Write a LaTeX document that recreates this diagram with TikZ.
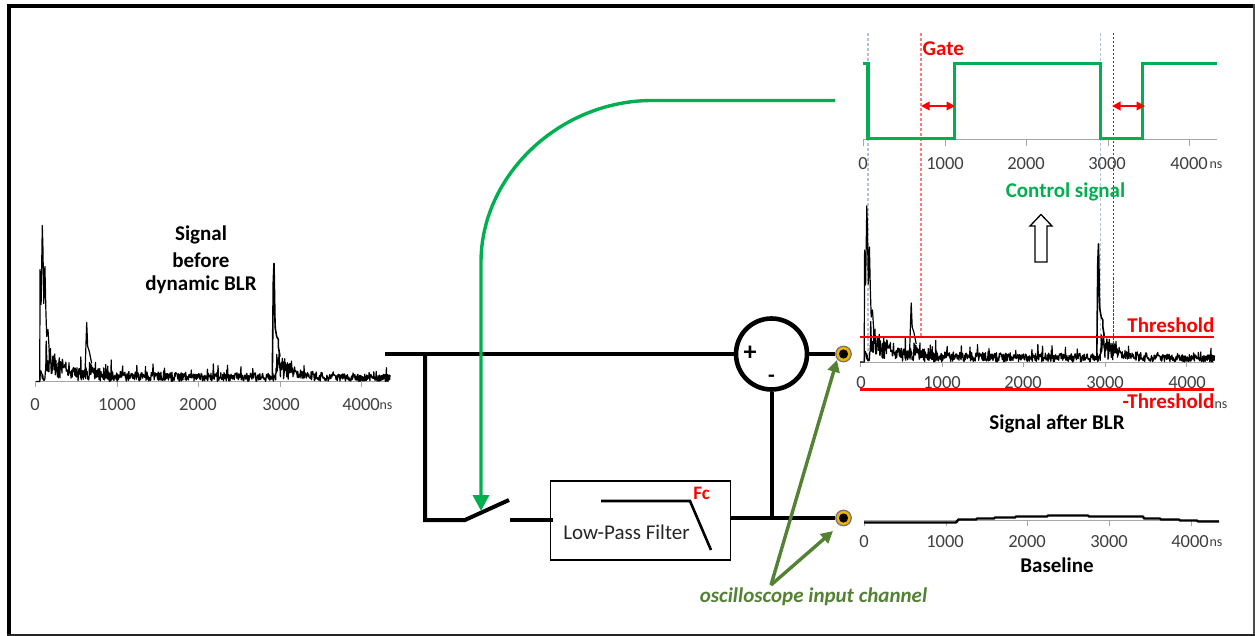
\documentclass[tikz,border=0pt]{standalone}
\usepackage{fontspec}
\setmainfont{Carlito}
\usetikzlibrary{arrows.meta,calc}
\definecolor{grn}{HTML}{00B050}
\definecolor{olive}{HTML}{548235}
\definecolor{txtgray}{HTML}{404040}
\definecolor{axgray}{HTML}{A6A6A6}
\definecolor{dashblue}{HTML}{B4C0D4}
\definecolor{dashpink}{HTML}{FF7C7C}
\definecolor{dashdark}{HTML}{A02020}
\definecolor{yel}{HTML}{F0B400}
\newcommand{\sigpeaks}{%
  \draw[sig] (4.2,-1) -- (4.6,-112) -- (5.6,-77) -- (6.8,-156) -- (7.4,-135) -- (8.3,-78) -- (9.4,-115) -- (10.4,-70) -- (11.2,-45) -- (12.5,-52) -- (13.8,-30);
  \draw[sig] (49.5,-8) -- (51.2,-59) -- (52.2,-35) -- (53.8,-30) -- (56.2,-18);
  \draw[sig,line width=1.6pt] (236.8,-5) -- (237.8,-100) -- (238.5,-118) -- (239.5,-60) -- (239.8,-53) -- (241.2,-45) -- (242.8,-42) -- (242.8,-35) -- (244.5,-25);
}
\tikzset{
  wire/.style={line width=4pt,black},
  tick/.style={font=\fontsize{18.5}{21}\selectfont,text=txtgray,inner sep=0pt},
  nsl/.style={font=\fontsize{14}{16}\selectfont,text=txtgray,inner sep=0pt},
  lab/.style={font=\bfseries\fontsize{21}{24}\selectfont,inner sep=0pt},
  redlab/.style={font=\bfseries\fontsize{21}{24}\selectfont,inner sep=0pt,text=red},
  axisl/.style={axgray,line width=1pt},
  sig/.style={black,line width=1.2pt,line join=round},
  vdash/.style={dash pattern=on 3pt off 2pt,line width=1.3pt},
  plug/.style={circle,draw=black!55,line width=1.2pt,fill=yel,minimum size=15.5pt,inner sep=0pt},
  thr/.style={red,line width=2.8pt},
  gatearrow/.style={red,line width=2.4pt,{Triangle[width=8.5pt,length=8.5pt]}-{Triangle[width=8.5pt,length=8.5pt]}},
  oarrow/.style={olive,line width=3.4pt,-{Triangle[width=12pt,length=12pt]}},
  declare function={
    env(\t)=(\t>=130)*32*exp(-max(\t-130,0)/240)
           +(\t>=660)*16*exp(-max(\t-660,0)/100)
           +(\t>=2950)*30*exp(-max(\t-2950,0)/190);
    sigy(\t)=(\t>=55)*(env(\t)*rnd+(11-0.0009*\t)*rnd*(1+(rnd>0.9)*1.0));
  }
}
\begin{document}
\begin{tikzpicture}[x=1pt,y=-1pt]
\useasboundingbox (0,0) rectangle (1255,636);
\fill[white] (0,0) rectangle (1255,636);
% frame
\fill[black] (7,4) rectangle (11,636);
\fill[black] (7,4) rectangle (1255,8);
\fill[black!70] (1253.4,4) rectangle (1255,636);
\fill[black!85] (7,634) rectangle (1255,636);

% ---------- left chart
\draw[axisl] (35.5,381.5) -- (389,381.5);
\foreach \xx in {35.5,117,198.5,280,361.5}{
  \draw[axisl] (\xx,381.5) -- (\xx,386.5);
}
\pgfmathsetseed{12345}
\draw[sig] plot[domain=0:4350,samples=900] ({35.5+0.0815*\x},{381.5-sigy(\x)});
\begin{scope}[shift={(35.5,381.5)}]\sigpeaks\end{scope}
\foreach \k/\xx in {0/35,1000/117,2000/198,3000/281,4000/361}{
  \node[tick] (lt\k) at (\xx,404.5) {\k};
}
\node[nsl] (lns) at (386,406.5) {ns};
\node[lab] (t1) at (201,234.5) {Signal};
\node[lab] (t2) at (201,260) {before};
\node[lab] (t3) at (201,285) {dynamic BLR};

% ---------- control chart
\draw[axisl] (863,140) -- (1217,140);
\foreach \xx in {863,945,1026,1108,1189}{
  \draw[axisl] (\xx,140) -- (\xx,146);
}
\draw[dashblue,vdash] (868,33) -- (868,362);
\draw[dashblue,vdash] (1100.7,33) -- (1100.7,362);
\draw[dashpink,vdash] (921,33) -- (921,337);
\draw[dashdark,dash pattern=on 2.5pt off 1.5pt,line width=1pt] (1113.5,33) -- (1113.5,357);
\draw[grn,line width=3.3pt,line join=miter]
  (863,63.5) -- (868,63.5) -- (868,138.7) -- (954.7,138.7) -- (954.7,63.5) -- (1100.7,63.5)
  -- (1100.7,138.7) -- (1142.7,138.7) -- (1142.7,63.5) -- (1217,63.5);
\coordinate (ga1) at (921,106);\coordinate (ga2) at (955,106);
\coordinate (gb1) at (1112,106);\coordinate (gb2) at (1145,106);
\draw[gatearrow] (ga1) -- (ga2);
\draw[gatearrow] (gb1) -- (gb2);
\node[redlab,anchor=west] (gate) at (922.5,48.5) {Gate};
\foreach \k/\xx in {0/863,1000/945,2000/1026,3000/1107,4000/1189}{
  \node[tick] (ct\k) at (\xx,163.5) {\k};
}
\node[nsl] (cns) at (1216,165) {ns};
\node[lab,text=grn] (ctl) at (1065.5,191.5) {Control signal};
\draw[black,line width=1.3pt,fill=white,line join=miter]
  (1035,262) -- (1047,262) -- (1047,226) -- (1052,226) -- (1041,214.5) -- (1030,226) -- (1035,226) -- cycle;

% ---------- signal-after chart
\draw[axisl] (860,362) -- (1214,362);
\foreach \xx in {860,942,1023,1105,1186}{
  \draw[axisl] (\xx,362) -- (\xx,367);
}
\pgfmathsetseed{12345}
\draw[sig] plot[domain=0:4350,samples=900] ({860+0.0815*\x},{362-sigy(\x)});
\begin{scope}[shift={(860,362)}]\sigpeaks\end{scope}
\draw[thr] (860,337) -- (1214,337);
\draw[thr] (860,389.5) -- (1214,389.5);
\foreach \k/\xx in {0/861,1000/942,2000/1023,3000/1105,4000/1187}{
  \node[tick] (st\k) at (\xx,383) {\k};
}
\node[nsl] (sns) at (1221,405.5) {ns};
\node[redlab,anchor=east] (thp) at (1214.5,325.5) {Threshold};
\node[redlab,anchor=east] (thm) at (1214.5,401) {-Threshold};
\node[lab] (sab) at (1057,424) {Signal after BLR};

% ---------- baseline chart
\draw[axisl] (864,520.7) -- (1219,520.7);
\foreach \xx in {864,946,1027,1109,1191}{
  \draw[axisl] (\xx,520.7) -- (\xx,526);
}
\draw[black,line width=2.4pt,line join=round]
 (864,522.5) -- (956,522.5) -- (958.5,519.5) -- (976,519.5) -- (977,518.5) -- (994,518.5) -- (995,517.5)
 -- (1015,517.5) -- (1016,516.5) -- (1047,516.5) -- (1048,515.5) -- (1088,515.5) -- (1089,516.5) -- (1143,516.5)
 -- (1144,518.5) -- (1160,518.5) -- (1161,519.5) -- (1179,519.5) -- (1180,520.5) -- (1197,520.5) -- (1198,521.5) -- (1219,521.5);
\foreach \k/\xx in {0/864,1000/945,2000/1027,3000/1109,4000/1190}{
  \node[tick] (bt\k) at (\xx,541.5) {\k};
}
\node[nsl] (bns) at (1216,543.5) {ns};
\node[lab] (bl) at (1057,565) {Baseline};

% ---------- block diagram
\coordinate (in) at (385,354);
\coordinate (jn) at (425,354);
\coordinate (sw0) at (465,520);
\coordinate (sw1) at (509,500);
\coordinate (sw2) at (510,520);
\coordinate (jb) at (771.5,518);
\node[circle,draw=black,line width=4.6pt,fill=white,minimum size=71pt,inner sep=0pt] (sum) at (771.5,354) {};
\node[plug] (p1) at (843.5,354) {};
\node[plug] (p2) at (843.5,518) {};
\fill[black] (p1.center) circle (4.6pt);
\fill[black] (p2.center) circle (4.6pt);
\node[draw=black,line width=1.3pt,fill=white,minimum width=180pt,minimum height=79pt,inner sep=0pt] (lpf) at (640.5,520.5) {};
\node[font=\fontsize{21}{24}\selectfont,text=black!85,inner sep=0pt] (lpft) at (626.5,532) {Low-Pass Filter};
\draw[black,line width=2.6pt,line join=miter] (601,501) -- (690,501) -- (711,550);
\node[font=\bfseries\fontsize{19}{22}\selectfont,text=red,inner sep=0pt] (fc) at (701.5,493) {Fc};
\draw[wire] (in) -- (sum.west);
\draw[wire] (sum.east) -- (p1.west);
\draw[wire,line join=miter] (jn) -- (425,520) -- (sw0) -- (sw1);
\draw[wire] (sw2) -- (553,520);
\draw[wire] (730.5,518) -- (p2.west);
\draw[wire] (sum.south) -- (jb);
\node[font=\bfseries\fontsize{26}{26}\selectfont,inner sep=0pt] (plus) at (750,353) {+};
\node[font=\bfseries\fontsize{22}{22}\selectfont,inner sep=0pt] (minus) at (771.5,379) {-};

% green control line
\coordinate (gs) at (835,100.5);
\coordinate (ge) at (481,511);
\draw[grn,line width=3.4pt,-{Triangle[width=16pt,length=16pt]}]
  (gs) -- (652,100.5) .. controls (560,100.5) and (481,175) .. (481,262) -- (ge);

% oscilloscope arrows
\coordinate (ob) at (771,585);
\coordinate (oa1) at (837,360);
\coordinate (oa2) at (833,531);
\draw[oarrow] (ob) -- (oa1);
\draw[oarrow] (ob) -- (oa2);
\node[font=\bfseries\itshape\fontsize{21}{24}\selectfont,text=olive,inner sep=0pt] (osc) at (813.5,597) {oscilloscope input channel};
\end{tikzpicture}
\end{document}
